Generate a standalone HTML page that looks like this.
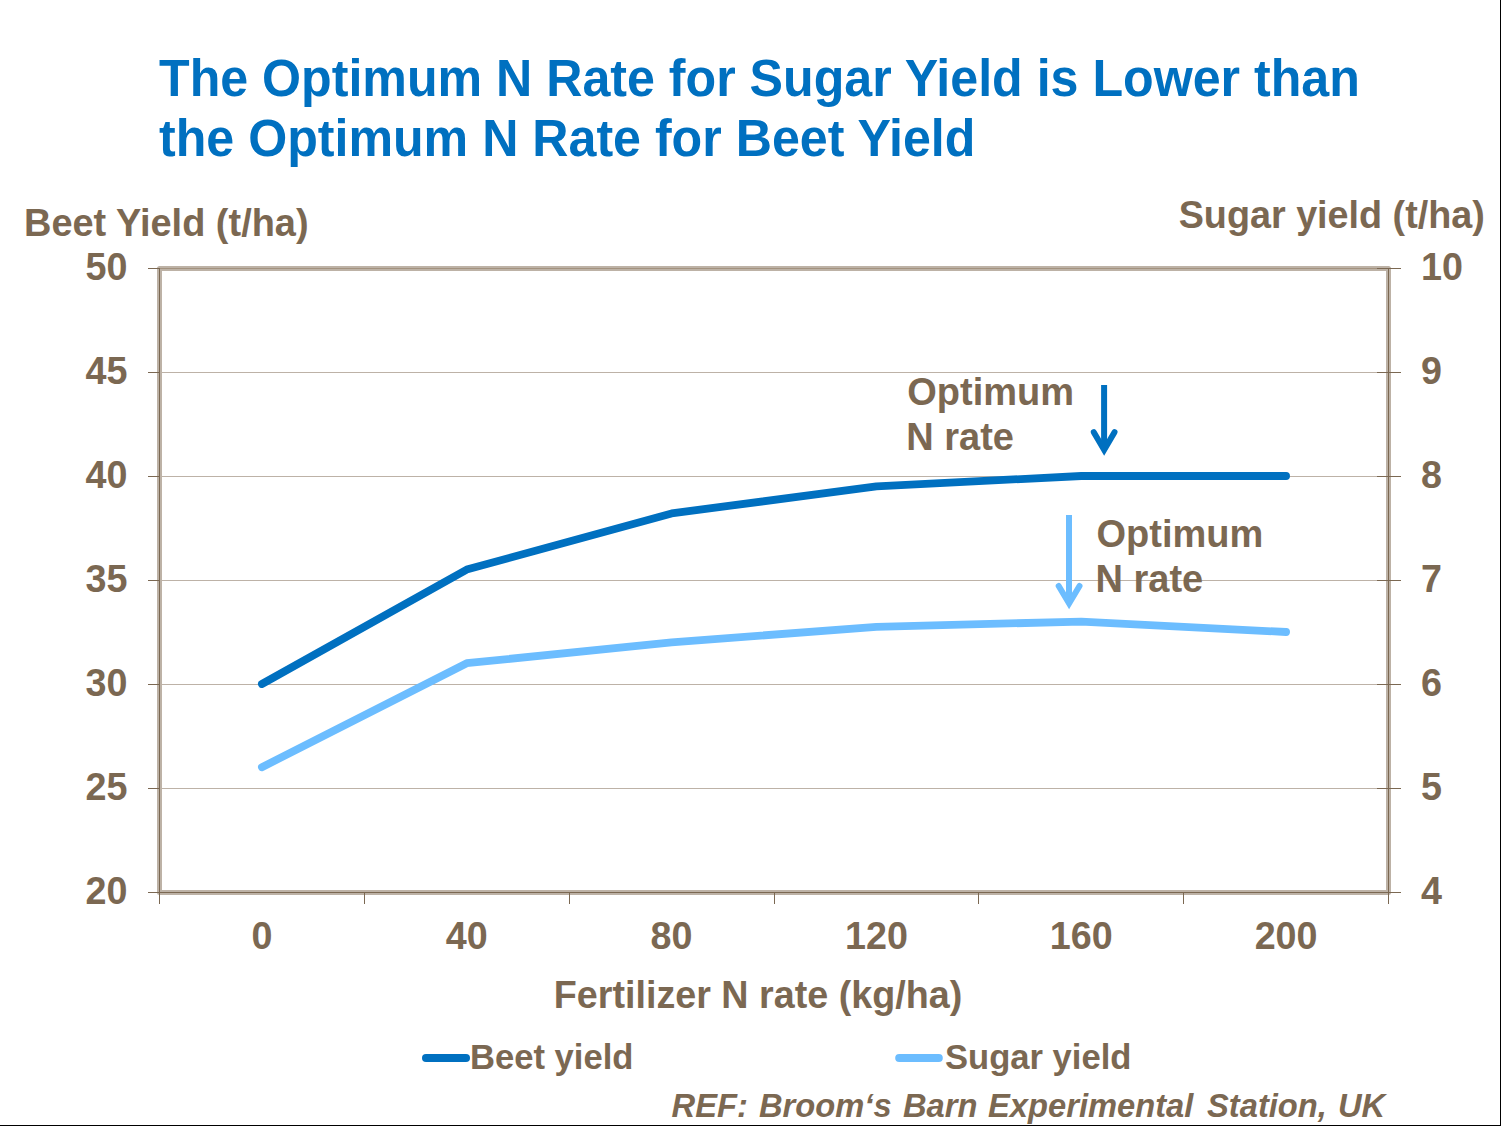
<!DOCTYPE html>
<html><head><meta charset="utf-8">
<style>
html,body{margin:0;padding:0;background:#fff;}
body{width:1501px;height:1126px;overflow:hidden;position:relative;}
svg{position:absolute;left:0;top:0;}
text{font-family:"Liberation Sans",sans-serif;font-weight:bold;}
</style></head>
<body>
<svg width="1501" height="1126" viewBox="0 0 1501 1126">
<rect x="1500" y="0" width="1" height="1126" fill="#000"/>
<rect x="0" y="1125" width="1501" height="1" fill="#000"/>
<g stroke="#BDB2A7" stroke-width="1"><line x1="159" y1="372.5" x2="1388" y2="372.5"/><line x1="159" y1="476.5" x2="1388" y2="476.5"/><line x1="159" y1="580.5" x2="1388" y2="580.5"/><line x1="159" y1="684.5" x2="1388" y2="684.5"/><line x1="159" y1="788.5" x2="1388" y2="788.5"/></g>
<rect x="159.5" y="268.5" width="1229" height="624" fill="none" stroke="#BDB2A6" stroke-width="5" stroke-linejoin="round"/>
<line x1="159" y1="268.5" x2="1388" y2="268.5" stroke="#A3927F" stroke-width="1.2"/>
<g stroke="#7B6852" stroke-width="1">
<line x1="159.5" y1="268" x2="159.5" y2="904"/>
<line x1="148" y1="892.5" x2="1388.5" y2="892.5"/>
<line x1="1388.5" y1="268" x2="1388.5" y2="893"/>
<line x1="148" y1="268.5" x2="160" y2="268.5"/><line x1="148" y1="372.5" x2="160" y2="372.5"/><line x1="148" y1="476.5" x2="160" y2="476.5"/><line x1="148" y1="580.5" x2="160" y2="580.5"/><line x1="148" y1="684.5" x2="160" y2="684.5"/><line x1="148" y1="788.5" x2="160" y2="788.5"/><line x1="148" y1="892.5" x2="160" y2="892.5"/><line x1="1377" y1="268.5" x2="1401" y2="268.5"/><line x1="1377" y1="372.5" x2="1401" y2="372.5"/><line x1="1377" y1="476.5" x2="1401" y2="476.5"/><line x1="1377" y1="580.5" x2="1401" y2="580.5"/><line x1="1377" y1="684.5" x2="1401" y2="684.5"/><line x1="1377" y1="788.5" x2="1401" y2="788.5"/><line x1="1377" y1="892.5" x2="1401" y2="892.5"/><line x1="364.5" y1="892" x2="364.5" y2="904"/><line x1="569.5" y1="892" x2="569.5" y2="904"/><line x1="774.5" y1="892" x2="774.5" y2="904"/><line x1="978.5" y1="892" x2="978.5" y2="904"/><line x1="1183.5" y1="892" x2="1183.5" y2="904"/><line x1="1388.5" y1="892" x2="1388.5" y2="904"/>
</g>
<polyline points="261.92,684.0 466.75,569.6 671.58,513.4 876.42,486.4 1081.25,476.0 1286.08,476.0" fill="none" stroke="#0070C0" stroke-width="7.8" stroke-linecap="round" stroke-linejoin="round"/>
<polyline points="261.92,767.2 466.75,663.2 671.58,642.4 876.42,626.8 1081.25,621.6 1286.08,632.0" fill="none" stroke="#6CBDFF" stroke-width="7.8" stroke-linecap="round" stroke-linejoin="round"/>
<line x1="1104.1" y1="385" x2="1104.1" y2="450" stroke="#0070C0" stroke-width="6"/>
<polyline points="1093.8,432.2 1104.15,449.9 1114.5,432.2" fill="none" stroke="#0070C0" stroke-width="6" stroke-linecap="round" stroke-linejoin="miter"/>
<line x1="1069" y1="515" x2="1069" y2="603" stroke="#6CBDFF" stroke-width="6"/>
<polyline points="1058.7,586 1069.1,603.5 1079.5,586" fill="none" stroke="#6CBDFF" stroke-width="6" stroke-linecap="round" stroke-linejoin="miter"/>
<line x1="426" y1="1058" x2="466" y2="1058" stroke="#0070C0" stroke-width="8" stroke-linecap="round"/>
<line x1="899.2" y1="1058" x2="938.8" y2="1058" stroke="#6CBDFF" stroke-width="8" stroke-linecap="round"/>
<text transform="translate(159,96) scale(1,1.04)" font-size="50.15" fill="#0070C0" text-anchor="start">The Optimum N Rate for Sugar Yield is Lower than</text><text transform="translate(159,156) scale(1,1.04)" font-size="50.15" fill="#0070C0" text-anchor="start">the Optimum N Rate for Beet Yield</text><text transform="translate(24,236.4) scale(1,1.04)" font-size="37.95" fill="#7B6852" text-anchor="start">Beet Yield (t/ha)</text><text transform="translate(1178.7,228) scale(1,1.04)" font-size="37.75" fill="#7B6852" text-anchor="start">Sugar yield (t/ha)</text><text transform="translate(127.4,280) scale(1,1.04)" font-size="37.7" fill="#7B6852" text-anchor="end">50</text><text transform="translate(127.4,384) scale(1,1.04)" font-size="37.7" fill="#7B6852" text-anchor="end">45</text><text transform="translate(127.4,488) scale(1,1.04)" font-size="37.7" fill="#7B6852" text-anchor="end">40</text><text transform="translate(127.4,592) scale(1,1.04)" font-size="37.7" fill="#7B6852" text-anchor="end">35</text><text transform="translate(127.4,696) scale(1,1.04)" font-size="37.7" fill="#7B6852" text-anchor="end">30</text><text transform="translate(127.4,800) scale(1,1.04)" font-size="37.7" fill="#7B6852" text-anchor="end">25</text><text transform="translate(127.4,904) scale(1,1.04)" font-size="37.7" fill="#7B6852" text-anchor="end">20</text><text transform="translate(1421,279.5) scale(1,1.04)" font-size="37.7" fill="#7B6852" text-anchor="start">10</text><text transform="translate(1421,383.5) scale(1,1.04)" font-size="37.7" fill="#7B6852" text-anchor="start">9</text><text transform="translate(1421,487.5) scale(1,1.04)" font-size="37.7" fill="#7B6852" text-anchor="start">8</text><text transform="translate(1421,591.5) scale(1,1.04)" font-size="37.7" fill="#7B6852" text-anchor="start">7</text><text transform="translate(1421,695.5) scale(1,1.04)" font-size="37.7" fill="#7B6852" text-anchor="start">6</text><text transform="translate(1421,799.5) scale(1,1.04)" font-size="37.7" fill="#7B6852" text-anchor="start">5</text><text transform="translate(1421,903.5) scale(1,1.04)" font-size="37.7" fill="#7B6852" text-anchor="start">4</text><text transform="translate(261.92,949) scale(1,1.04)" font-size="37.7" fill="#7B6852" text-anchor="middle">0</text><text transform="translate(466.75,949) scale(1,1.04)" font-size="37.7" fill="#7B6852" text-anchor="middle">40</text><text transform="translate(671.58,949) scale(1,1.04)" font-size="37.7" fill="#7B6852" text-anchor="middle">80</text><text transform="translate(876.42,949) scale(1,1.04)" font-size="37.7" fill="#7B6852" text-anchor="middle">120</text><text transform="translate(1081.25,949) scale(1,1.04)" font-size="37.7" fill="#7B6852" text-anchor="middle">160</text><text transform="translate(1286.08,949) scale(1,1.04)" font-size="37.7" fill="#7B6852" text-anchor="middle">200</text><text transform="translate(758,1008) scale(1,1.04)" font-size="37.7" fill="#7B6852" text-anchor="middle">Fertilizer N rate (kg/ha)</text><text transform="translate(907.3,405) scale(1,1.04)" font-size="38" fill="#7B6852" text-anchor="start">Optimum</text><text transform="translate(906.3,450) scale(1,1.04)" font-size="38" fill="#7B6852" text-anchor="start">N rate</text><text transform="translate(1096.5,547) scale(1,1.04)" font-size="38" fill="#7B6852" text-anchor="start">Optimum</text><text transform="translate(1095.5,592) scale(1,1.04)" font-size="38" fill="#7B6852" text-anchor="start">N rate</text><text transform="translate(470,1068.9) scale(1,1.04)" font-size="34.6" fill="#7B6852" text-anchor="start">Beet yield</text><text transform="translate(945,1068.9) scale(1,1.04)" font-size="34.6" fill="#7B6852" text-anchor="start">Sugar yield</text>
<text transform="translate(0,1117) scale(1,1.04)" font-size="32.7" fill="#7B6852" font-style="italic"><tspan x="671.60">REF:</tspan><tspan x="759.00">Broom‘s</tspan><tspan x="903.00">Barn</tspan><tspan x="988.00">Experimental</tspan><tspan x="1207.00">Station,</tspan><tspan x="1338.00">UK</tspan></text>
</svg>
</body></html>
